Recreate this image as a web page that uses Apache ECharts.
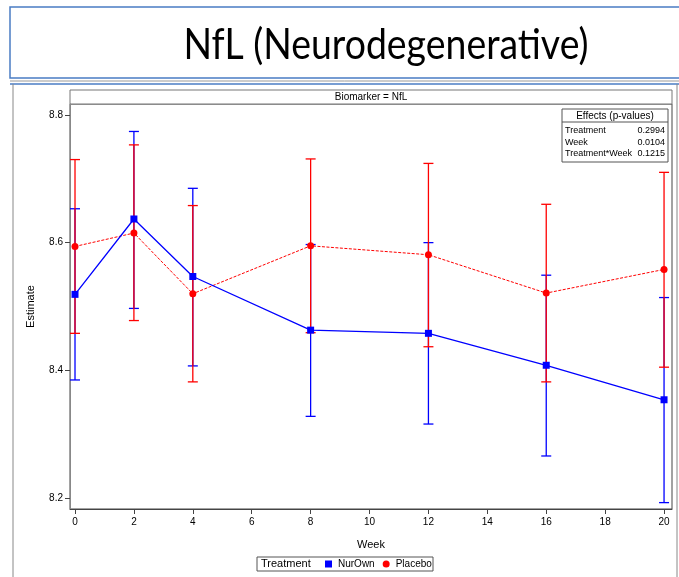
<!DOCTYPE html>
<html>
<head>
<meta charset="utf-8">
<script src="https://cdn.jsdelivr.net/npm/echarts@6/dist/echarts.min.js"></script>
<style>
  html, body { margin: 0; padding: 0; background: #fff; }
  #chart { width: 679px; height: 577px; }
</style>
</head>
<body>
<div id="chart"></div>
<script>
// Model-estimated NfL by visit week, with 95% confidence limits
const weeks = [0, 2, 4, 8, 12, 16, 20];
const nurownEst   = [8.519, 8.637, 8.547, 8.463, 8.458, 8.408, 8.354];
const nurownLower = [8.385, 8.497, 8.407, 8.328, 8.316, 8.266, 8.193];
const nurownUpper = [8.653, 8.774, 8.685, 8.597, 8.600, 8.549, 8.514];
const placeboEst   = [8.594, 8.615, 8.520, 8.595, 8.581, 8.521, 8.558];
const placeboLower = [8.458, 8.478, 8.382, 8.459, 8.437, 8.382, 8.405];
const placeboUpper = [8.730, 8.753, 8.658, 8.731, 8.724, 8.660, 8.710];

const xTicks = [0, 2, 4, 6, 8, 10, 12, 14, 16, 18, 20];
const yTicks = [8.2, 8.4, 8.6, 8.8];

// Type 3 tests of fixed effects
const effectNames = ['Treatment', 'Week', 'Treatment*Week'];
const effectPValues = ['0.2994', '0.0104', '0.1215'];

const BLUE = '#0000ff';
const RED = '#ff0000';
const FONT = '"Liberation Sans", Arial, sans-serif';

const chart = echarts.init(document.getElementById('chart'), null, { renderer: 'canvas' });

function errorBarSeries(name, lower, upper, color) {
  return {
    type: 'custom',
    name: name + ' CI',
    silent: true,
    z: 3,
    data: weeks.map((w, i) => [w, lower[i], upper[i]]),
    renderItem: function (params, api) {
      const lo = api.coord([api.value(0), api.value(1)]);
      const hi = api.coord([api.value(0), api.value(2)]);
      const half = 5;
      const style = { stroke: color, lineWidth: 1.3 };
      return {
        type: 'group',
        children: [
          { type: 'line', shape: { x1: lo[0], y1: lo[1], x2: hi[0], y2: hi[1] }, style: style },
          { type: 'line', shape: { x1: lo[0] - half, y1: lo[1], x2: lo[0] + half, y2: lo[1] }, style: style },
          { type: 'line', shape: { x1: hi[0] - half, y1: hi[1], x2: hi[0] + half, y2: hi[1] }, style: style }
        ]
      };
    }
  };
}

// Effects table rows
const effectsChildren = [
  { type: 'rect', shape: { x: 0, y: 0, width: 106, height: 53 }, style: { fill: '#fff', stroke: '#555', lineWidth: 1 } },
  { type: 'line', shape: { x1: 0, y1: 13, x2: 106, y2: 13 }, style: { stroke: '#555', lineWidth: 1 } },
  { type: 'text', x: 53, y: 7, style: { text: 'Effects (p-values)', font: '10px ' + FONT, fill: '#000', align: 'center', verticalAlign: 'middle' } }
];
effectNames.forEach((n, i) => {
  effectsChildren.push({ type: 'text', x: 3, y: 22 + i * 11.5, style: { text: n, font: '9px ' + FONT, fill: '#000', align: 'left', verticalAlign: 'middle' } });
  effectsChildren.push({ type: 'text', x: 103, y: 22 + i * 11.5, style: { text: effectPValues[i], font: '9px ' + FONT, fill: '#000', align: 'right', verticalAlign: 'middle' } });
});

const option = {
  animation: false,
  backgroundColor: '#fff',
  grid: {
    left: 70, right: 7, top: 104, bottom: 68,
    show: true, borderColor: '#444', borderWidth: 1, backgroundColor: '#fff'
  },
  xAxis: {
    type: 'value',
    min: -0.17, max: 20.27,
    name: 'Week', nameLocation: 'middle', nameGap: 30,
    nameTextStyle: { fontFamily: FONT, fontSize: 11, color: '#000' },
    axisLine: { show: true, onZero: false, lineStyle: { color: '#444', width: 1 } },
    axisTick: { show: true, length: 5, customValues: xTicks, lineStyle: { color: '#444' } },
    axisLabel: { customValues: xTicks, fontFamily: FONT, fontSize: 10, color: '#000', margin: 8 },
    splitLine: { show: false }
  },
  yAxis: {
    type: 'value',
    min: 8.183, max: 8.817,
    name: 'Estimate', nameLocation: 'middle', nameGap: 34, nameRotate: 90,
    nameTextStyle: { fontFamily: FONT, fontSize: 11, color: '#000' },
    axisLine: { show: true, onZero: false, lineStyle: { color: '#888', width: 1 } },
    axisTick: { show: true, length: 5, customValues: yTicks, lineStyle: { color: '#444' } },
    axisLabel: { customValues: yTicks, fontFamily: FONT, fontSize: 10, color: '#000', margin: 7, formatter: v => v.toFixed(1) },
    splitLine: { show: false }
  },
  legend: {
    left: 325, top: 559, padding: 0, itemGap: 8,
    itemWidth: 7, itemHeight: 7,
    data: [
      { name: 'NurOwn', icon: 'rect' },
      { name: 'Placebo', icon: 'circle' }
    ],
    textStyle: { fontFamily: FONT, fontSize: 10, color: '#000', padding: [0, 0, 0, 1] },
    selectedMode: false
  },
  series: [
    errorBarSeries('NurOwn', nurownLower, nurownUpper, BLUE),
    errorBarSeries('Placebo', placeboLower, placeboUpper, RED),
    {
      type: 'line', name: 'Placebo', z: 4,
      data: weeks.map((w, i) => [w, placeboEst[i]]),
      symbol: 'circle', symbolSize: 7,
      itemStyle: { color: RED },
      lineStyle: { color: RED, width: 1, type: [3, 1.5] }
    },
    {
      type: 'line', name: 'NurOwn', z: 5,
      data: weeks.map((w, i) => [w, nurownEst[i]]),
      symbol: 'rect', symbolSize: 7,
      itemStyle: { color: BLUE },
      lineStyle: { color: BLUE, width: 1.3 }
    }
  ],
  graphic: [
    // slide title frame
    { type: 'rect', shape: { x: 10, y: 7, width: 700, height: 71 }, style: { fill: 'none', stroke: '#4a7cc4', lineWidth: 1.5 } },
    { type: 'text', x: 386, y: 45, scaleX: 0.87, style: { text: 'NfL (Neurodegenerative)', font: '43px Lato, "Open Sans", sans-serif', fill: '#000', align: 'center', verticalAlign: 'middle' } },
    { type: 'line', shape: { x1: 10, y1: 81, x2: 679, y2: 81 }, style: { stroke: '#999', lineWidth: 1 } },
    { type: 'line', shape: { x1: 10, y1: 84, x2: 679, y2: 84 }, style: { stroke: '#4a7cc4', lineWidth: 1.5 } },
    // outer frame of the figure panel
    { type: 'line', shape: { x1: 13, y1: 84, x2: 13, y2: 577 }, style: { stroke: '#888', lineWidth: 1 } },
    { type: 'line', shape: { x1: 677, y1: 84, x2: 677, y2: 577 }, style: { stroke: '#888', lineWidth: 1 } },
    // panel header strip
    { type: 'rect', shape: { x: 70, y: 90, width: 602, height: 14 }, style: { fill: '#fff', stroke: '#777', lineWidth: 1 } },
    { type: 'text', x: 371, y: 97, style: { text: 'Biomarker = NfL', font: '10px ' + FONT, fill: '#000', align: 'center', verticalAlign: 'middle' } },
    // effects inset
    { type: 'group', x: 562, y: 109, children: effectsChildren, z: 10 },
    // legend frame
    { type: 'rect', shape: { x: 257, y: 557, width: 176, height: 14 }, style: { fill: 'none', stroke: '#555', lineWidth: 1 }, z: -1 },
    { type: 'text', x: 261, y: 564, style: { text: 'Treatment', font: '11px ' + FONT, fill: '#000', align: 'left', verticalAlign: 'middle' } }
  ]
};

chart.setOption(option);
</script>
</body>
</html>
